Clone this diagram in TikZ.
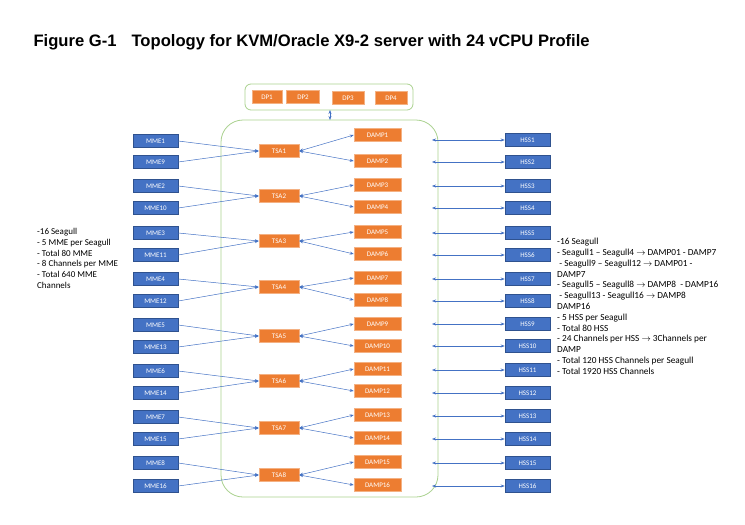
\documentclass[tikz,border=0pt]{standalone}
\usepackage{fontspec}
\setmainfont{Carlito}
\newfontfamily\arialf{Liberation Sans}
\usetikzlibrary{arrows.meta}
\definecolor{bblue}{HTML}{4472C4}
\definecolor{bborder}{HTML}{2F528F}
\definecolor{bor}{HTML}{ED7D31}
\definecolor{oborder}{HTML}{F4B183}
\definecolor{gline}{HTML}{A9D18E}
\begin{document}
\begin{tikzpicture}[x=1pt,y=-1pt,
 bx/.style={draw=bborder,fill=bblue,text=white,minimum width=45pt,minimum height=13pt,inner sep=0pt,text height=5pt,text depth=0pt,font=\fontsize{7}{8}\selectfont,line width=0.5pt},
 ox/.style={draw=oborder,fill=bor,text=white,minimum height=13pt,inner sep=0pt,text height=5pt,text depth=0pt,font=\fontsize{7}{8}\selectfont,line width=0.5pt},
 ar/.style={draw=bblue,line width=0.5pt,-{Stealth[length=4pt,width=3pt]}},
 dar/.style={draw=bblue,line width=0.5pt,{Stealth[length=4pt,width=3pt]}-{Stealth[length=4pt,width=3pt]}},
 grn/.style={draw=gline,line width=0.8pt,rounded corners=#1}]
\useasboundingbox (0,0) rectangle (745,525);
\node[anchor=west,font=\arialf\bfseries\fontsize{16.6}{19}\selectfont] (title) at (30,42) {Figure G-1\hspace{15pt}Topology for KVM/Oracle X9-2 server with 24 vCPU Profile};
% containers
\draw[grn=6pt] (245,84) rectangle (413,110);
\draw[grn=22pt] (221,120) rectangle (438,497);
\coordinate (dpb) at (330,110);
\coordinate (cbt) at (330,120);
\draw[dar] (dpb) -- (cbt);
\node[ox,minimum width=30pt] (dp1) at (267,97) {DP1};
\node[ox,minimum width=33pt] (dp2) at (303,97) {DP2};
\node[ox,minimum width=32pt] (dp3) at (348,98) {DP3};
\node[ox,minimum width=32pt] (dp4) at (391,98) {DP4};
% MME
\foreach \i/\y in {1/141,9/162,2/186,10/208,3/233,11/255,4/279,12/301,5/325,13/347,6/371,14/393,7/417,15/439,8/463,16/486}
  \node[bx] (mme\i) at (155.5,\y) {MME\i};
% TSA
\foreach \i/\y in {1/151,2/196,3/241,4/287,5/336,6/381,7/428,8/475}
  \node[ox,minimum width=40pt] (tsa\i) at (279,\y) {TSA\i};
% DAMP
\foreach \i/\y in {1/135,2/161,3/185,4/207,5/232,6/254,7/278,8/300,9/324,10/346,11/369,12/391,13/415,14/438,15/462,16/485}
  \node[ox,minimum width=47pt] (damp\i) at (377.5,\y) {DAMP\i};
% HSS
\foreach \i/\y in {1/140,2/162,3/186,4/208,5/233,6/255,7/279,8/301,9/324,10/346,11/370,12/393,13/416,14/439,15/463,16/486}{
  \node[bx] (hss\i) at (527.5,\y) {HSS\i};
  \coordinate (hl\i) at (432,\y);
  \draw[dar] (hl\i) -- (hss\i.west);
}
% MME->TSA, TSA<->DAMP
\foreach \t/\a/\b/\c/\d in {1/1/9/1/2,2/2/10/3/4,3/3/11/5/6,4/4/12/7/8,5/5/13/9/10,6/6/14/11/12,7/7/15/13/14,8/8/16/15/16}{
  \draw[ar] (mme\a.east) -- (tsa\t.west);
  \draw[ar] (mme\b.east) -- (tsa\t.west);
  \draw[dar] (tsa\t.east) -- (damp\c.west);
  \draw[dar] (tsa\t.east) -- (damp\d.west);
}
% notes
\node[anchor=north west,align=left,font=\fontsize{9}{10.8}\selectfont,inner sep=0pt] (ln) at (37,228) {-16 Seagull\\ - 5 MME per Seagull\\ - Total 80 MME\\ - 8 Channels per MME\\ - Total 640 MME\\ Channels};
\node[anchor=north west,align=left,font=\fontsize{9.3}{10.8}\selectfont,inner sep=0pt] (rn) at (557,238) {-16 Seagull\\ - Seagull1 -- Seagull4 $\rightarrow$ DAMP01 - DAMP7\\ \ - Seagull9 -- Seagull12 $\rightarrow$ DAMP01 -\\ DAMP7\\ - Seagull5 -- Seagull8 $\rightarrow$ DAMP8 \ - DAMP16\\ \ - Seagull13 - Seagull16 $\rightarrow$ DAMP8\\ DAMP16\\ - 5 HSS per Seagull\\ - Total 80 HSS\\ - 24 Channels per HSS $\rightarrow$ 3Channels per\\ DAMP\\ - Total 120 HSS Channels per Seagull\\ - Total 1920 HSS Channels};
\end{tikzpicture}
\end{document}
